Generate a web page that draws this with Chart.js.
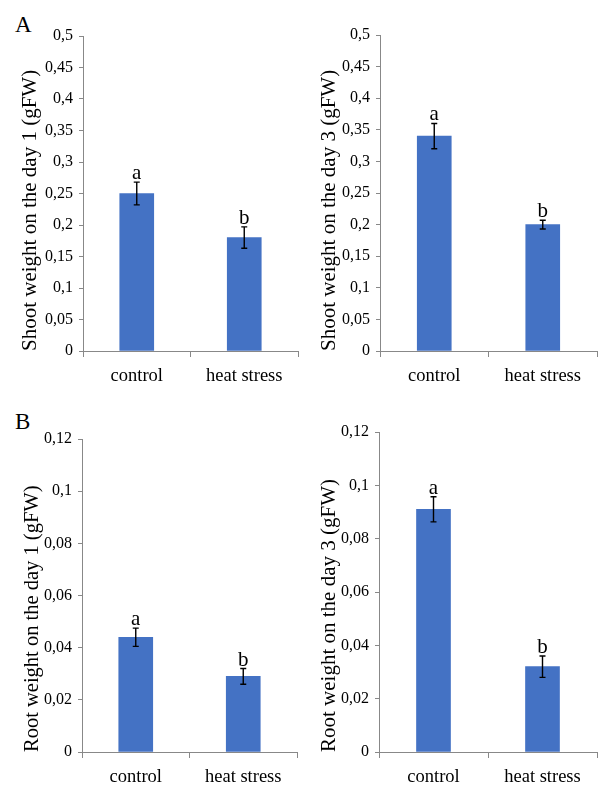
<!DOCTYPE html>
<html><head><meta charset="utf-8">
<script src="https://cdn.jsdelivr.net/npm/chart.js@4/dist/chart.umd.min.js"></script>
<style>
html,body{margin:0;padding:0;background:#fff;}
body{width:598px;height:787px;position:relative;overflow:hidden;}
canvas{position:absolute;}
.lab{position:absolute;font-family:"Liberation Serif",serif;font-size:23px;line-height:23px;color:#000;}
</style></head><body>
<div class="lab" style="left:15px;top:13px">A</div>
<div class="lab" style="left:15px;top:410px">B</div>
<canvas id="c1" width="299" height="390" style="left:0;top:0"></canvas>
<canvas id="c2" width="299" height="390" style="left:299px;top:0"></canvas>
<canvas id="c3" width="299" height="397" style="left:0;top:390px"></canvas>
<canvas id="c4" width="299" height="397" style="left:299px;top:390px"></canvas>
<script>
// ---- data ----
const categories = ['control', 'heat stress'];
const letters = ['a', 'b'];
const shootDay1 = [0.25, 0.18];
const shootDay1Err = [0.018, 0.017];
const shootDay3 = [0.34, 0.20];
const shootDay3Err = [0.02, 0.007];
const rootDay1 = [0.044, 0.029];
const rootDay1Err = [0.0035, 0.003];
const rootDay3 = [0.091, 0.032];
const rootDay3Err = [0.0047, 0.004];
const shootMax = 0.5, shootStep = 0.05;
const rootMax = 0.12, rootStep = 0.02;
const titles = [
  'Shoot weight on the day 1 (gFW)',
  'Shoot weight on the day 3 (gFW)',
  'Root weight on the day 1 (gFW)',
  'Root weight on the day 3 (gFW)'
];

const SERIF = "'Liberation Serif', serif";
const AXIS = '#888888';
Chart.defaults.font.family = SERIF;
Chart.defaults.color = '#000';

const errPlugin = {
  id: 'errbars',
  afterDatasetsDraw(chart) {
    const o = chart.options.plugins.errbars;
    const ctx = chart.ctx;
    const meta = chart.getDatasetMeta(0);
    const ys = chart.scales.y;
    ctx.save();
    meta.data.forEach((bar, i) => {
      const v = chart.data.datasets[0].data[i];
      const e = o.err[i];
      const x = bar.x;
      const yt = ys.getPixelForValue(v + e);
      const yb = ys.getPixelForValue(v - e);
      ctx.strokeStyle = '#000';
      ctx.lineWidth = 1.4;
      ctx.beginPath();
      ctx.moveTo(x, yt); ctx.lineTo(x, yb);
      ctx.moveTo(x - 3, yt); ctx.lineTo(x + 3, yt);
      ctx.moveTo(x - 3, yb); ctx.lineTo(x + 3, yb);
      ctx.stroke();
      ctx.fillStyle = '#000';
      ctx.font = '21px ' + SERIF;
      ctx.textAlign = 'center';
      ctx.textBaseline = 'alphabetic';
      ctx.fillText(o.letters[i], x, yt - 3);
    });
    ctx.restore();
  }
};

function fmt(v) {
  const n = Number(v.toFixed(3));
  return String(n).replace('.', ',');
}

function makeChart(id, values, errs, max, step, title, L) {
  const W = L.W, H = L.H;
  new Chart(document.getElementById(id), {
    type: 'bar',
    data: {
      labels: categories,
      datasets: [{ data: values, backgroundColor: '#4472C4', borderWidth: 0, barThickness: 34 }]
    },
    options: {
      responsive: false,
      animation: false,
      devicePixelRatio: 1,
      layout: { padding: { left: 0, top: L.top, right: W - L.right, bottom: 0 } },
      plugins: {
        legend: { display: false },
        tooltip: { enabled: false },
        errbars: { err: errs, letters: letters }
      },
      scales: {
        x: {
          grid: { display: true, drawOnChartArea: false, drawTicks: true, tickLength: 6, color: AXIS, offset: true },
          border: { display: true, color: AXIS, width: 1 },
          ticks: { color: '#000', font: { family: SERIF, size: 18.5 }, padding: 8, maxRotation: 0 },
          afterFit(s) { s.height = H - L.bottom; }
        },
        y: {
          min: 0, max: max,
          grid: { display: true, drawOnChartArea: false, drawTicks: true, tickLength: 4, color: AXIS },
          border: { display: true, color: AXIS, width: 1 },
          ticks: { stepSize: step, color: '#000', font: { family: SERIF, size: 16 }, padding: 6,
                   callback: (v) => fmt(v) },
          title: { display: true, text: title, align: 'start', color: '#000',
                   font: { family: SERIF, size: L.ts }, padding: { top: L.tx - 12, bottom: 0 } },
          afterFit(s) { s.width = L.left; }
        }
      }
    },
    plugins: [errPlugin]
  });
}

makeChart('c1', shootDay1, shootDay1Err, shootMax, shootStep, titles[0],
  { W: 299, H: 390, left: 83, right: 298, top: 36, bottom: 351, tx: 30, ts: 21 });
makeChart('c2', shootDay3, shootDay3Err, shootMax, shootStep, titles[1],
  { W: 299, H: 390, left: 81, right: 298, top: 35, bottom: 351, tx: 30, ts: 21 });
makeChart('c3', rootDay1, rootDay1Err, rootMax, rootStep, titles[2],
  { W: 299, H: 397, left: 82, right: 297, top: 49, bottom: 362, tx: 32, ts: 20.5 });
makeChart('c4', rootDay3, rootDay3Err, rootMax, rootStep, titles[3],
  { W: 299, H: 397, left: 80, right: 298, top: 42, bottom: 362, tx: 30, ts: 21 });
</script>
</body></html>
